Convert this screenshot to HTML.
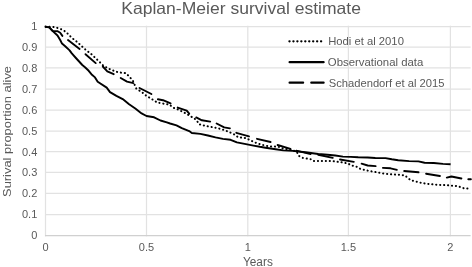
<!DOCTYPE html>
<html><head><meta charset="utf-8"><title>Kaplan-Meier survival estimate</title>
<style>html,body{margin:0;padding:0;background:#fff}body{width:472px;height:267px;overflow:hidden}svg{display:block;will-change:transform}text{font-family:"Liberation Sans",sans-serif;fill:#595959}</style></head><body>
<svg width="472" height="267" viewBox="0 0 472 267">
<rect width="472" height="267" fill="#fff"/>
<g stroke="#e2e2e2" stroke-width="1.25">
<line x1="45" y1="26.5" x2="470.6" y2="26.5"/>
<line x1="45" y1="47.0" x2="470.6" y2="47.0"/>
<line x1="45" y1="67.9" x2="470.6" y2="67.9"/>
<line x1="45" y1="89.1" x2="470.6" y2="89.1"/>
<line x1="45" y1="110.2" x2="470.6" y2="110.2"/>
<line x1="45" y1="131.2" x2="470.6" y2="131.2"/>
<line x1="45" y1="151.6" x2="470.6" y2="151.6"/>
<line x1="45" y1="172.3" x2="470.6" y2="172.3"/>
<line x1="45" y1="193.3" x2="470.6" y2="193.3"/>
<line x1="45" y1="214.5" x2="470.6" y2="214.5"/>
<line x1="45.5" y1="25.7" x2="45.5" y2="236.3"/>
<line x1="146.5" y1="25.7" x2="146.5" y2="236.3"/>
<line x1="247.8" y1="25.7" x2="247.8" y2="236.3"/>
<line x1="348.4" y1="25.7" x2="348.4" y2="236.3"/>
<line x1="450.4" y1="25.7" x2="450.4" y2="236.3"/>
</g>
<line x1="45" y1="235.5" x2="470.6" y2="235.5" stroke="#d0d0d0" stroke-width="1.25"/>
<text x="121.3" y="13.8" font-size="16.5" textLength="239.6" lengthAdjust="spacingAndGlyphs">Kaplan-Meier survival estimate</text>
<text x="37.3" y="30.4" font-size="11" text-anchor="end">1</text>
<text x="37.3" y="50.9" font-size="11" text-anchor="end">0.9</text>
<text x="37.3" y="71.8" font-size="11" text-anchor="end">0.8</text>
<text x="37.3" y="93.0" font-size="11" text-anchor="end">0.7</text>
<text x="37.3" y="114.1" font-size="11" text-anchor="end">0.6</text>
<text x="37.3" y="135.1" font-size="11" text-anchor="end">0.5</text>
<text x="37.3" y="155.5" font-size="11" text-anchor="end">0.4</text>
<text x="37.3" y="176.2" font-size="11" text-anchor="end">0.3</text>
<text x="37.3" y="197.2" font-size="11" text-anchor="end">0.2</text>
<text x="37.3" y="218.4" font-size="11" text-anchor="end">0.1</text>
<text x="37.3" y="239.4" font-size="11" text-anchor="end">0</text>
<text x="45.5" y="251" font-size="11" text-anchor="middle">0</text>
<text x="146.5" y="251" font-size="11" text-anchor="middle">0.5</text>
<text x="247.8" y="251" font-size="11" text-anchor="middle">1</text>
<text x="348.4" y="251" font-size="11" text-anchor="middle">1.5</text>
<text x="450.4" y="251" font-size="11" text-anchor="middle">2</text>
<text x="243" y="265.5" font-size="12" textLength="29.8" lengthAdjust="spacingAndGlyphs">Years</text>
<text transform="translate(11 196.9) rotate(-90)" font-size="11.2" textLength="130.9" lengthAdjust="spacingAndGlyphs">Surival proportion alive</text>
<g fill="none" stroke="#000">
<path d="M289.4 41.3H322.4" stroke-width="2.2" stroke-linecap="round" stroke-dasharray="0.2 3.75"/>
<path d="M289.6 62.2H323.6" stroke-width="2.25" stroke-linecap="round"/>
<path d="M289.6 82.7H303.1M311.3 82.7H323.6" stroke-width="2.25" stroke-linecap="round"/>
</g>
<text x="328.2" y="45.3" font-size="11" textLength="75.7" lengthAdjust="spacingAndGlyphs">Hodi et al 2010</text>
<text x="327.8" y="65.9" font-size="11" textLength="95.5" lengthAdjust="spacingAndGlyphs">Observational data</text>
<text x="328.7" y="86.5" font-size="11" textLength="115.8" lengthAdjust="spacingAndGlyphs">Schadendorf et al 2015</text>
<g fill="none" stroke="#000" stroke-linejoin="round">
<path d="M45.5 26.6 L53.0 26.9 L57.0 27.8 L61.1 29.2 L64.5 31.0 L67.2 33.2 L70.0 36.0 L72.8 38.6 L75.7 40.8 L78.6 43.3 L85.0 49.2 L91.4 54.2 L98.2 60.6 L103.5 65.8 L110.7 69.6 L118.1 72.3 L125.8 73.2 L128.9 76.1 L132.8 80.6 L136.4 88.8 L141.6 91.9 L146.5 95.9 L152.0 99.2 L157.0 102.4 L163.2 103.6 L169.6 104.7 L173.2 107.7 L178.3 109.6 L183.4 112.2 L188.3 114.9 L193.5 118.0 L196.8 120.3 L198.8 124.1 L205.8 126.0 L212.1 127.1 L218.5 128.4 L224.9 130.2 L228.0 131.6 L233.8 134.1 L238.2 137.3 L244.6 137.9 L249.0 139.6 L254.8 142.4 L259.5 144.0 L265.5 145.7 L271.8 146.5 L278.2 146.7 L283.3 148.6 L291.0 149.8 L296.6 151.6 L299.1 156.0 L302.9 157.9 L306.8 158.6 L310.6 159.2 L313.4 161.1 L332.7 161.1 L336.6 161.7 L341.7 162.3 L347.4 163.3 L351.8 165.5 L356.9 166.8 L360.5 169.0 L365.5 170.2 L370.6 171.2 L375.7 172.1 L381.7 173.3 L388.0 174.0 L394.4 174.6 L400.4 174.8 L404.6 175.4 L407.7 177.7 L410.7 180.3 L415.4 181.4 L421.5 182.9 L427.6 183.9 L433.8 184.5 L439.9 184.9 L446.1 185.2 L452.2 185.7 L458.3 186.2 L461.4 187.5 L464.5 188.5 L470.8 188.5" stroke-width="2" stroke-linecap="round" stroke-dasharray="0.2 3.75"/>
<path d="M45.9 26.9 L49.3 27.4 L52.8 31.1 L55.0 31.1 L57.7 31.3 L60.2 32.8 L62.4 35.9 M68.0 40.1 L79.6 48.9 M85.5 54.2 L95.7 63.1 M102.8 66.5 L107.3 71.4 L113.7 74.2 M120.7 78.0 L127.0 81.6 L133.4 83.1 M139.5 88.0 L151.4 94.0 M157.9 99.3 L163.0 100.2 L170.6 103.4 M177.7 107.6 L186.7 110.7 L189.2 113.7 M196.2 117.4 L201.9 120.3 L210.2 121.6 M216.6 123.5 L224.2 127.4 L229.9 128.4 M236.3 132.8 L249.0 136.4 M257.0 138.8 L270.6 142.0 M277.6 145.0 L290.5 148.9 M296.3 150.7 L310.6 154.1 M318.2 154.7 L332.8 157.9 M340.0 159.5 L353.8 161.9 M361.6 163.7 L367.7 165.5 L375.6 166.1 M382.9 167.9 L390.6 168.3 L396.9 169.8 M404.2 171.0 L418.5 172.3 M426.1 173.7 L439.9 176.0 M446.8 177.6 L451.4 176.5 L461.4 178.5 M468.3 179.3 L470.9 179.3" stroke-width="1.9" stroke-linecap="round"/>
<path d="M44.9 26.9 L49.3 27.4 L53.0 31.4 L57.5 35.5 L60.2 40.0 L62.0 43.6 L65.2 46.3 L69.6 50.4 L71.8 53.4 L75.9 58.0 L82.3 65.0 L85.0 67.2 L88.7 70.8 L91.4 74.2 L95.0 77.4 L97.7 81.8 L106.7 87.6 L110.0 92.1 L113.0 93.9 L116.4 95.9 L122.7 99.1 L129.1 104.2 L135.3 108.5 L141.6 113.4 L146.5 116.0 L154.1 117.3 L160.5 120.5 L166.8 122.4 L170.1 123.5 L176.5 125.4 L181.8 128.1 L189.2 131.1 L191.8 133.0 L200.4 133.9 L207.9 135.5 L215.5 137.4 L222.9 138.9 L230.6 139.8 L236.9 142.4 L244.6 143.9 L253.5 145.6 L259.9 146.8 L265.5 147.7 L275.7 149.2 L283.3 150.4 L292.7 150.9 L305.5 152.2 L318.2 154.0 L327.6 154.7 L335.3 155.5 L342.9 156.6 L350.6 156.9 L358.2 157.3 L367.6 157.5 L375.3 158.0 L385.5 158.1 L391.8 159.3 L398.2 160.3 L409.2 161.1 L418.4 161.4 L424.6 162.7 L433.8 163.0 L443.0 163.9 L450.6 164.2" stroke-width="1.9" stroke-linecap="butt"/>
</g>
</svg></body></html>
